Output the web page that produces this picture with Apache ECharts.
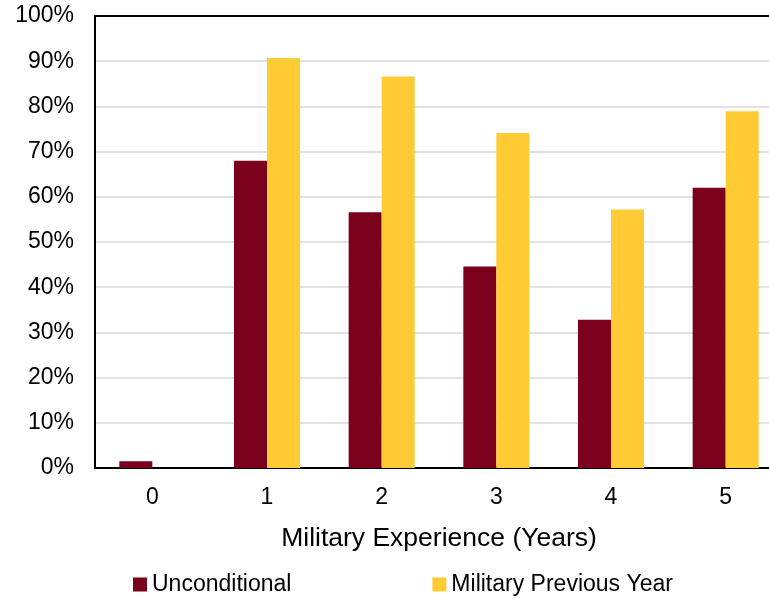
<!DOCTYPE html>
<html>
<head>
<meta charset="utf-8">
<script src="https://cdn.jsdelivr.net/npm/echarts@6/dist/echarts.min.js"></script>
<style>
  html, body { margin: 0; padding: 0; background: #fff; }
  #chart { width: 769px; height: 598px; }
</style>
</head>
<body>
<div id="chart"></div>
<script>
// Share of people, by years of military experience
const categories = ['0', '1', '2', '3', '4', '5'];
const unconditional = [1.5, 68.0, 56.6, 44.6, 32.8, 62.0];
const militaryPreviousYear = [0, 90.7, 86.6, 74.1, 57.2, 78.9];
const seriesNames = ['Unconditional', 'Military Previous Year'];
const axisTitle = 'Military Experience (Years)';

const FONT = '"Liberation Sans", Arial, sans-serif';
const chart = echarts.init(document.getElementById('chart'), null, { renderer: 'canvas' });

chart.setOption({
  backgroundColor: '#ffffff',
  animation: false,
  textStyle: { fontFamily: FONT, color: '#000' },
  // plot area runs a little past the right edge of the canvas
  grid: { left: 95, top: 16, width: 688, height: 452, containLabel: false, outerBoundsMode: 'none' },
  legend: {
    left: 128,
    top: 568,
    itemWidth: 14,
    itemHeight: 14,
    itemGap: 141,
    icon: 'rect',
    textStyle: { fontFamily: FONT, fontSize: 23, color: '#000' },
    data: seriesNames
  },
  xAxis: [
    {
      type: 'category',
      data: categories,
      position: 'bottom',
      axisLine: { lineStyle: { color: '#000', width: 2 } },
      axisTick: { show: false },
      axisLabel: { fontFamily: FONT, fontSize: 23, color: '#000', margin: 18 },
      name: axisTitle,
      nameLocation: 'middle',
      nameGap: 57,
      nameTextStyle: { fontFamily: FONT, fontSize: 26.5, color: '#000' }
    },
    {
      // upper frame line of the plot area
      type: 'category',
      data: categories,
      position: 'top',
      axisLine: { lineStyle: { color: '#000', width: 2 } },
      axisTick: { show: false },
      axisLabel: { show: false }
    }
  ],
  yAxis: {
    type: 'value',
    min: 0,
    max: 100,
    interval: 10,
    axisLine: { show: true, lineStyle: { color: '#000', width: 2 } },
    axisTick: { show: false },
    axisLabel: {
      fontFamily: FONT, fontSize: 23, color: '#000', margin: 21,
      padding: [4, 0, 0, 0],
      formatter: '{value}%'
    },
    splitLine: { show: true, lineStyle: { color: '#d9d9d9', width: 1.5 } }
  },
  series: [
    {
      name: seriesNames[0],
      type: 'bar',
      data: unconditional,
      barWidth: 33,
      barGap: '0%',
      itemStyle: { color: '#7a001c' }
    },
    {
      name: seriesNames[1],
      type: 'bar',
      data: militaryPreviousYear,
      barWidth: 33,
      barGap: '0%',
      itemStyle: { color: '#ffcb35' }
    }
  ]
});
</script>
</body>
</html>
